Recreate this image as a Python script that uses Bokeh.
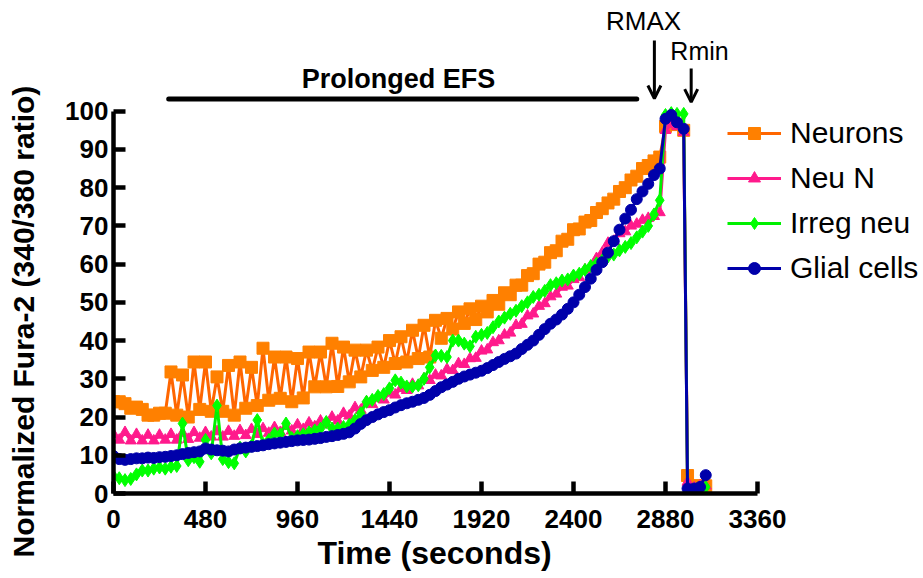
from bokeh.plotting import figure
from bokeh.models import Range1d, FixedTicker, Label, Arrow, OpenHead, Legend, LegendItem, Title
from bokeh.embed import file_html
from bokeh.resources import INLINE

# ---------------- data ----------------
time_s = [0, 30, 60, 90, 120, 150, 180, 210, 240, 270,
          300, 330, 360, 390, 420, 450, 480, 510, 540, 570,
          600, 630, 660, 690, 720, 750, 780, 810, 840, 870,
          900, 930, 960, 990, 1020, 1050, 1080, 1110, 1140, 1170,
          1200, 1230, 1260, 1290, 1320, 1350, 1380, 1410, 1440, 1470,
          1500, 1530, 1560, 1590, 1620, 1650, 1680, 1710, 1740, 1770,
          1800, 1830, 1860, 1890, 1920, 1950, 1980, 2010, 2040, 2070,
          2100, 2130, 2160, 2190, 2220, 2250, 2280, 2310, 2340, 2370,
          2400, 2430, 2460, 2490, 2520, 2550, 2580, 2610, 2640, 2670,
          2700, 2730, 2760, 2790, 2820, 2850,
          2880, 2910, 2940, 2975,
          2995, 3030, 3060, 3090]

neurons = [24, 24, 23.5, 22.3, 22.6, 22, 20.5, 20.5, 21, 21,
           31.8, 20.5, 31, 20, 34.4, 22, 34.4, 21.5, 30.5, 21.5,
           33.5, 20.5, 34.4, 22.3, 33, 23, 38, 24.4, 35.7, 24.9,
           35.7, 24, 35.3, 25, 37, 27.9, 37, 27.9, 39.3, 28,
           38.3, 29.2, 37.5, 30.5, 37.5, 32.2, 38.3, 33, 40, 34,
           41, 34.4, 42.7, 35.3, 44, 35.7, 45.3, 40.6, 45.8, 43,
           47.5, 44.5, 48.3, 45.5, 49, 47.5, 50.5, 49.5, 52.5, 52,
           54.5, 54.5, 57, 57.5, 60, 60.5, 63, 63.5, 66, 66.5,
           69, 69.2, 71, 71.4, 73.5, 74.5, 76, 77, 79, 80,
           82, 83, 85, 85.8, 87, 88,
           96, 97, 96.5, 95,
           4.7, 2, 2, 2]

neu_n = [15.5, 14, 16, 13.8, 15.5, 13.8, 15.3, 13.8, 15.3, 14,
         15.5, 14, 15.8, 14.2, 16, 14.5, 16, 14.8, 16.2, 14.8,
         16.3, 15, 16.5, 15.2, 16.8, 15.5, 17, 15.8, 17.3, 16,
         17.6, 16.4, 18, 16.8, 18.5, 17.5, 19, 18, 20, 19,
         21, 20.3, 22.5, 21.8, 24, 23.3, 25, 24.5, 26.3, 25.8,
         27.5, 27, 28.6, 28.2, 30, 29.6, 31, 30.8, 32.5, 32.2,
         34, 33.8, 35.3, 35.4, 37.3, 37.6, 39.5, 40, 41.5, 42,
         44, 44.3, 46.5, 47, 49, 49.7, 51.5, 52.2, 54, 54.3,
         56, 56.5, 58.5, 59, 61.5, 63, 65.5, 66, 68, 68.5,
         70, 70.5, 71.5, 72, 72.5, 73.5,
         95, 96.5, 96, 94.5,
         3, 1.5, 2, 2]

irreg_neu = [4.5, 4, 3.5, 3.8, 5, 6, 6, 6.5, 6.8, 6.5,
             7, 7.2, 18.3, 8.7, 9.5, 8.3, 14, 10.5, 23, 9,
             8.2, 7.9, 12, 11, 12.5, 19.2, 13, 14, 15.7, 15.5,
             18.3, 14.5, 15, 15.5, 16, 16.5, 17, 18.7, 17, 17,
             17.4, 18, 19.2, 21, 24, 24.5, 25.5, 26, 27.5, 29.6,
             29, 28, 28, 28.3, 30, 33, 36.1, 36, 35.7, 40,
             40, 39.2, 38.5, 41, 41.5, 42, 43.5, 45, 46, 47,
             47.8, 49, 50, 51.4, 52, 53, 54.5, 55, 55.7, 56,
             57, 57.5, 58.5, 59.5, 60.2, 61, 62, 62.5, 63.6, 64.5,
             65.5, 67, 68.5, 70, 73, 76.7,
             99, 99.5, 99.3, 99.3,
             1, 1, 1.5, 1.7]

glial = [9.8, 9, 8.8, 9, 9.2, 9.2, 9.4, 9.3, 9.5, 9.6,
         9.8, 10, 10.3, 10.6, 10.8, 11, 11.8, 11.5, 11.3, 11.2,
         11, 11.5, 11.8, 12, 12.2, 12.4, 12.6, 12.9, 13.1, 13.3,
         13.5, 13.7, 13.9, 14, 14.1, 14.3, 14.5, 14.8, 15, 15.3,
         15.6, 16, 17, 18.2, 19.2, 20, 20.7, 21.3, 21.8, 22.5,
         23.1, 23.6, 24, 24.5, 25, 25.8, 26.8, 27.8, 28.5, 29.2,
         30, 30.6, 31.1, 31.6, 32.1, 32.8, 33.6, 34.4, 35.2, 35.9,
         36.6, 37.8, 38.9, 40, 41.5, 43, 44.4, 45.5, 46.8, 48.3,
         50, 52, 54, 56.2, 58.5, 60.5, 63, 66, 69, 71.9,
         74.2, 77, 79, 81, 83.3, 85,
         98, 99, 97.1, 95.4,
         1.3, 1.3, 1.7, 4.8]

series_names = ["Neurons", "Neu N", "Irreg neu", "Glial cells"]
x_ticks = [0, 480, 960, 1440, 1920, 2400, 2880, 3360]
y_ticks = [0, 10, 20, 30, 40, 50, 60, 70, 80, 90, 100]

efs_start, efs_end, efs_level = 288, 2730, 103.2
rmax_time, rmin_time = 2822, 3014

# ---------------- geometry (page px; canvas sits at 0,0) ----------------
W, H = 923, 578
FL, FB = 113, 493          # frame left / bottom = data origin
K_X = 92.0 / 480.0         # px per second
K_Y = (FB - 110.7) / 100.0 # px per unit


def tx(px):
    return (px - FL) / K_X


def ty(py):
    return (FB - py) / K_Y


p = figure(width=W, height=H, x_range=Range1d(0, tx(W)), y_range=Range1d(0, ty(0)),
           output_backend="svg", toolbar_location=None, title=None,
           min_border_left=FL, min_border_right=0, min_border_top=0, min_border_bottom=H - FB)
p.outline_line_color = None
p.grid.visible = False
p.background_fill_color = "white"
p.border_fill_color = "white"

for ax in (p.xaxis, p.yaxis):
    ax.axis_line_width = 4.5
    ax.axis_line_color = "black"
    ax.major_tick_line_width = 4.5
    ax.major_tick_line_color = "black"
    ax.major_tick_in = 12
    ax.major_tick_out = 0
    ax.minor_tick_line_color = None
    ax.major_label_text_font = "Liberation Sans"
    ax.major_label_text_font_style = "bold"
    ax.major_label_text_font_size = "26px"
    ax.major_label_text_color = "black"
    # invisible spacer label (keeps the axis titles at their place)
    ax.axis_label = " "
    ax.axis_label_text_font_size = "1px"
p.xaxis.bounds = (0, 3360)
p.yaxis.bounds = (0, 100)
p.xaxis.ticker = FixedTicker(ticks=x_ticks)
p.yaxis.ticker = FixedTicker(ticks=y_ticks)
p.xaxis.major_label_standoff = 16
p.yaxis.major_label_standoff = 5
p.xaxis.axis_label_standoff = 0
p.yaxis.axis_label_standoff = 19

styles = [
    (neurons, "#FF6600", "#FF8000", "square", 12),
    (neu_n, "#FF1A8C", "#FF1A8C", "triangle", 11),
    (irreg_neu, "#00F000", "#00FF00", "diamond", 13),
    (glial, "#0000AA", "#0000AA", "circle", 11),
]

items = []
for name, (vals, lc, fc, mk, sz) in zip(series_names, styles):
    rl = p.line(time_s, vals, line_color=lc, line_width=3)
    rs = p.scatter(time_s, vals, marker=mk, size=sz, fill_color=fc, line_color=fc)
    items.append(LegendItem(label=name, renderers=[rl, rs]))

legend = Legend(items=items, location=(727 - FL, FB - 288), padding=0, margin=0,
                spacing=5, glyph_width=54, glyph_height=30, label_height=40,
                label_standoff=9, label_text_font="Liberation Sans",
                label_text_font_size="30px", label_text_color="black",
                border_line_color=None, background_fill_alpha=0)
p.add_layout(legend)

# Prolonged EFS bar
p.line([efs_start, efs_end], [efs_level, efs_level], line_color="black", line_width=5, line_cap="round")
p.add_layout(Label(x=tx(398), y=ty(78), text="Prolonged EFS", text_align="center", text_baseline="middle",
                   text_font="Liberation Sans", text_font_style="bold", text_font_size="27px",
                   text_color="black"))

# RMAX / Rmin
p.add_layout(Label(x=tx(643), y=ty(20), text="RMAX", text_align="center", text_baseline="middle",
                   text_font="Liberation Sans", text_font_size="26px", text_color="black"))
p.add_layout(Arrow(x_start=rmax_time, y_start=ty(40), x_end=rmax_time, y_end=ty(98),
                   line_width=3, end=OpenHead(size=13, line_width=3)))
p.add_layout(Label(x=tx(699), y=ty(50), text="Rmin", text_align="center", text_baseline="middle",
                   text_font="Liberation Sans", text_font_size="25px", text_color="black"))
p.add_layout(Arrow(x_start=rmin_time, y_start=ty(68), x_end=rmin_time, y_end=ty(101.7),
                   line_width=3, end=OpenHead(size=13, line_width=3)))

# axis titles as side-panel titles
x_title = Title(text="Time (seconds)", align="left", offset=317 - FL,
                vertical_align="top", standoff=0, text_font="Liberation Sans",
                text_font_style="bold", text_font_size="32px", text_color="black")
p.add_layout(x_title, "below")
y_title = Title(text="Normalized Fura-2 (340/380 ratio)", align="left", offset=FB - 557,
                vertical_align="bottom", standoff=0, text_font="Liberation Sans",
                text_font_style="bold", text_font_size="30px", text_color="black")
p.add_layout(y_title, "left")

open("out.html", "w").write(file_html(p, INLINE))
